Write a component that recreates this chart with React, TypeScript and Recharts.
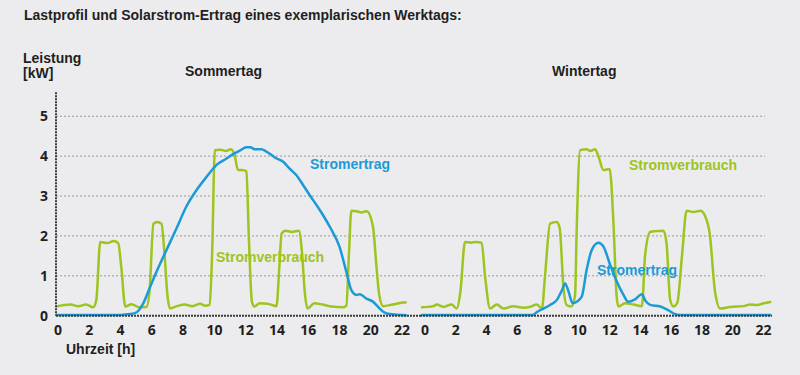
import { Line, LineChart, ReferenceLine, XAxis, YAxis } from "recharts";

// Sommertag – Stromverbrauch (Lastprofil)
const summerLoadH = [-0.13, 0.8, 1.3, 1.8, 2.25, 2.45, 2.7, 3.15, 3.55, 3.85, 4.05, 4.3, 4.7, 5.2, 5.65, 5.85, 6.1, 6.35, 6.62, 6.8, 7.0, 7.16, 7.6, 8.1, 8.6, 9.1, 9.4, 9.7, 9.85, 10.03, 10.4, 10.75, 11.05, 11.3, 11.5, 11.8, 12.05, 12.2, 12.4, 12.55, 12.9, 13.4, 13.97, 14.15, 14.3, 14.55, 14.95, 15.4, 15.6, 15.78, 15.95, 16.4, 16.9, 17.5, 18.2, 18.44, 18.6, 18.76, 19.1, 19.4, 19.75, 20.15, 20.35, 20.55, 20.8, 21.4, 22.05, 22.3];
const summerLoadKw = [0.23, 0.28, 0.24, 0.28, 0.21, 0.4, 1.85, 1.82, 1.87, 1.82, 1.2, 0.23, 0.29, 0.21, 0.22, 0.6, 2.3, 2.35, 2.3, 1.6, 0.5, 0.18, 0.24, 0.28, 0.24, 0.3, 0.25, 0.27, 1.5, 4.15, 4.16, 4.13, 4.17, 4.02, 3.66, 3.65, 3.62, 2.0, 0.35, 0.23, 0.31, 0.3, 0.24, 1.2, 2.06, 2.13, 2.1, 2.13, 1.6, 0.6, 0.18, 0.31, 0.28, 0.23, 0.21, 0.25, 1.5, 2.63, 2.62, 2.59, 2.62, 2.22, 1.3, 0.5, 0.24, 0.28, 0.33, 0.34];

// Sommertag – Stromertrag (PV)
const summerYieldH = [-0.13, 4.0, 4.6, 5.0, 5.45, 5.9, 6.3, 6.94, 7.58, 8.2, 8.86, 9.5, 10.14, 10.78, 11.2, 11.63, 12.05, 12.3, 12.6, 13.0, 13.3, 13.97, 14.4, 14.8, 15.25, 15.68, 16.1, 16.74, 17.38, 18.0, 18.44, 18.76, 19.08, 19.3, 19.72, 20.15, 20.4, 20.8, 21.2, 22.3];
const summerYieldKw = [0.02, 0.02, 0.04, 0.08, 0.31, 0.73, 1.1, 1.65, 2.19, 2.73, 3.15, 3.48, 3.78, 3.94, 4.05, 4.14, 4.22, 4.22, 4.17, 4.17, 4.12, 3.94, 3.86, 3.69, 3.52, 3.27, 3.02, 2.65, 2.23, 1.73, 1.1, 0.64, 0.52, 0.54, 0.43, 0.35, 0.25, 0.1, 0.04, 0.01];

// Wintertag – Stromverbrauch
const winterLoadH = [-0.26, 0.54, 0.76, 1.2, 1.73, 2.06, 2.3, 2.6, 3.0, 3.3, 3.68, 3.9, 4.23, 4.66, 5.1, 5.74, 6.4, 6.8, 7.26, 7.6, 7.8, 8.13, 8.56, 8.75, 9.0, 9.2, 9.5, 9.75, 9.86, 10.08, 10.5, 10.75, 11.05, 11.27, 11.6, 12.0, 12.25, 12.45, 12.57, 13.0, 13.55, 14.1, 14.3, 14.63, 15.0, 15.5, 15.7, 15.93, 16.15, 16.4, 16.7, 17.0, 17.45, 17.9, 18.2, 18.5, 18.85, 19.18, 19.83, 20.7, 21.13, 21.6, 22.0, 22.5];
const winterLoadKw = [0.21, 0.24, 0.28, 0.22, 0.28, 0.18, 0.6, 1.85, 1.83, 1.85, 1.83, 1.0, 0.18, 0.28, 0.18, 0.24, 0.2, 0.22, 0.28, 0.18, 1.0, 2.31, 2.35, 2.2, 0.7, 0.27, 0.23, 0.5, 2.2, 4.15, 4.17, 4.13, 4.17, 4.0, 3.65, 3.68, 2.3, 0.5, 0.23, 0.31, 0.28, 0.24, 1.5, 2.1, 2.12, 2.13, 1.8, 0.4, 0.23, 0.33, 1.5, 2.63, 2.6, 2.63, 2.5, 2.06, 0.6, 0.18, 0.22, 0.24, 0.28, 0.27, 0.31, 0.35];

// Wintertag – Stromertrag
const winterYieldH = [-0.26, 7.0, 7.3, 7.6, 8.13, 8.56, 8.9, 9.1, 9.3, 9.6, 9.86, 10.19, 10.5, 10.84, 11.27, 11.6, 12.0, 12.47, 12.9, 13.2, 13.65, 14.1, 14.3, 14.63, 15.3, 15.8, 16.25, 16.6, 22.5];
const winterYieldKw = [0.02, 0.02, 0.1, 0.16, 0.27, 0.39, 0.64, 0.81, 0.64, 0.31, 0.35, 0.48, 1.14, 1.65, 1.83, 1.73, 1.31, 0.85, 0.52, 0.35, 0.41, 0.54, 0.39, 0.27, 0.23, 0.14, 0.04, 0.02, 0.02];

const hourTicks = [0, 2, 4, 6, 8, 10, 12, 14, 16, 18, 20, 22];
const kwTicks = [0, 1, 2, 3, 4, 5];

const GREEN = "#9dc420";
const BLUE = "#1b9ad6";
const BG = "#ececee";
const TEXT = "#1f1f1f";
const GRID = "#9a9a9a";
const AXIS = "#3c3c3c";

const toRows = (hours: number[], values: number[]) => hours.map((h, i) => ({ h, v: values[i] }));

const summerLoad = toRows(summerLoadH, summerLoadKw);
const summerYield = toRows(summerYieldH, summerYieldKw);
const winterLoad = toRows(winterLoadH, winterLoadKw);
const winterYield = toRows(winterYieldH, winterYieldKw);

const tickStyle = { fontSize: 14, fontWeight: 700, fill: TEXT, fontFamily: "'Open Sans', sans-serif" };
const axisLineStyle = { stroke: AXIS, strokeWidth: 2, strokeDasharray: "2 1" };
const FONT = "'Liberation Sans', Arial, sans-serif";

const PLOT_TOP = 92.3;
const PLOT_BOTTOM = 59.3;

// dotted horizontal guides, drawn as segments so they can stop short of the plot edge
const gridLines = (x0: number, x1: number) =>
  kwTicks.slice(1).map((k) => (
    <ReferenceLine key={k} segment={[{ x: x0, y: k }, { x: x1, y: k }]} stroke={GRID} strokeDasharray="2 2" />
  ));

export default function App() {
  return (
    <div style={{ position: "absolute", left: 0, top: 0, width: 800, height: 375, background: BG, overflow: "hidden" }}>
      <div style={{ position: "absolute", left: 0, top: 0 }}>
        <LineChart width={420} height={375} margin={{ top: PLOT_TOP, right: 0, bottom: PLOT_BOTTOM - 30, left: 0 }}>
          {gridLines(-0.13, 23.15)}
          <XAxis
            type="number"
            dataKey="h"
            domain={[-0.13, 23.15]}
            ticks={hourTicks}
            interval={0}
            height={30}
            tickLine={false}
            axisLine={axisLineStyle}
            tick={tickStyle}
            tickMargin={3}
          />
          <YAxis
            type="number"
            domain={[0, 5.6]}
            ticks={kwTicks}
            width={56}
            tickLine={false}
            axisLine={axisLineStyle}
            tick={tickStyle}
            tickMargin={2}
          />
          <Line data={summerLoad} dataKey="v" type="monotone" stroke={GREEN} strokeWidth={2.5} dot={false} isAnimationActive={false} />
          <Line data={summerYield} dataKey="v" type="monotone" stroke={BLUE} strokeWidth={2.5} dot={false} isAnimationActive={false} />
        </LineChart>
      </div>
      <div style={{ position: "absolute", left: 420, top: 0 }}>
        <LineChart width={380} height={375} margin={{ top: PLOT_TOP, right: 28, bottom: PLOT_BOTTOM - 30, left: 0 }}>
          {gridLines(-0.325, 22.09)}
          <XAxis
            type="number"
            dataKey="h"
            domain={[-0.325, 22.55]}
            ticks={hourTicks}
            interval={0}
            height={30}
            tickLine={false}
            axisLine={axisLineStyle}
            tick={tickStyle}
            tickMargin={3}
          />
          <YAxis type="number" domain={[0, 5.6]} ticks={kwTicks} hide />
          <Line data={winterLoad} dataKey="v" type="monotone" stroke={GREEN} strokeWidth={2.5} dot={false} isAnimationActive={false} />
          <Line data={winterYield} dataKey="v" type="monotone" stroke={BLUE} strokeWidth={2.5} dot={false} isAnimationActive={false} />
        </LineChart>
      </div>
      <svg width={800} height={375} style={{ position: "absolute", left: 0, top: 0, pointerEvents: "none" }}>
        <g fontFamily={FONT} fontWeight={700}>
          <text x={24} y={19.5} fontSize={14} fill={TEXT}>Lastprofil und Solarstrom-Ertrag eines exemplarischen Werktags:</text>
          <text x={23} y={62.5} fontSize={14} fill={TEXT}>Leistung</text>
          <text x={23} y={78} fontSize={14} fill={TEXT}>[kW]</text>
          <text x={185} y={76} fontSize={14} fill={TEXT}>Sommertag</text>
          <text x={552} y={76} fontSize={14} fill={TEXT}>Wintertag</text>
          <text x={66} y={354} fontSize={14} fill={TEXT}>Uhrzeit [h]</text>
          <text x={310} y={168.5} fontSize={14} fill={BLUE}>Stromertrag</text>
          <text x={216} y={261.5} fontSize={14} fill={GREEN}>Stromverbrauch</text>
          <text x={629} y={169.5} fontSize={14} fill={GREEN}>Stromverbrauch</text>
          <text x={597} y={274.5} fontSize={14} fill={BLUE}>Stromertrag</text>
        </g>
      </svg>
    </div>
  );
}
